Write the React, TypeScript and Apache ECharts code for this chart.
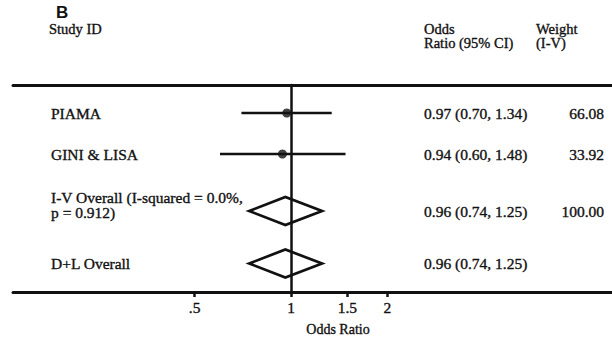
import React, { useEffect, useRef } from "react";
import * as echarts from "echarts";

// ---- data ----
const studyLabels = [
  "PIAMA",
  "GINI & LISA",
  "I-V Overall (I-squared = 0.0%,\np = 0.912)",
  "D+L Overall",
];
const oddsRatios = [0.97, 0.94, 0.96, 0.96];
const ciLower = [0.7, 0.6, 0.74, 0.74];
const ciUpper = [1.34, 1.48, 1.25, 1.25];
const weightLabels = ["66.08", "33.92", "100.00", ""];
const rowKinds = ["study", "study", "pooled", "pooled"];
const tickValues = [0.5, 1, 1.5, 2];
const tickLabels = [".5", "1", "1.5", "2"];

// ---- layout ----
const ROW_POS = [1.4, 3.45, 6.3, 8.925];
const Y_MAX = 10.35;
const X_MIN = -2.0;
const X_MAX = 2.309;
const DIAMOND_HALF = 0.7;
const SERIF = "'Liberation Serif', 'Times New Roman', serif";
const INK = "#111111";
const TEXT = "#111111";
const TXT_STROKE = 0.35;

export default function App() {
  const ref = useRef<HTMLDivElement>(null);

  useEffect(() => {
    if (!ref.current) return;
    const chart = echarts.init(ref.current, null, { renderer: "svg" });

    const ln = Math.log;
    const studyPoints = oddsRatios
      .map((v, i) => (rowKinds[i] === "study" ? [ln(v), ROW_POS[i]] : null))
      .filter((d) => d !== null);
    const forestData = oddsRatios.map((v, i) => [
      ln(ciLower[i]),
      ln(ciUpper[i]),
      ln(v),
      ROW_POS[i],
      rowKinds[i] === "pooled" ? 1 : 0,
    ]);
    const textData = studyLabels.map((_, i) => [0, ROW_POS[i], i]);

    const txt = (extra: any) => ({
      fontFamily: SERIF,
      fontSize: 15.5,
      fill: TEXT,
      stroke: TEXT,
      lineWidth: TXT_STROKE,
      verticalAlign: "middle",
      ...extra,
    });

    const option: any = {
      animation: false,
      backgroundColor: "#ffffff",
      grid: { left: 13, right: 0, top: 85, bottom: 46, containLabel: false },
      xAxis: [
        {
          type: "value",
          position: "bottom",
          min: X_MIN,
          max: X_MAX,
          axisLine: { show: true, onZero: false, lineStyle: { color: INK, width: 3 } },
          axisTick: {
            show: true,
            inside: false,
            length: 5,
            customValues: tickValues.map((t) => ln(t)),
            lineStyle: { color: INK, width: 2.5 },
          },
          axisLabel: {
            show: true,
            margin: 7,
            customValues: tickValues.map((t) => ln(t)),
            formatter: (v: number) => {
              let best = 0;
              tickValues.forEach((t, i) => {
                if (Math.abs(ln(t) - v) < Math.abs(ln(tickValues[best]) - v)) best = i;
              });
              return tickLabels[best];
            },
            fontFamily: SERIF,
            fontSize: 15.5,
            color: TEXT,
            textBorderColor: TEXT,
            textBorderWidth: TXT_STROKE,
          },
          splitLine: { show: false },
        },
        {
          type: "value",
          position: "top",
          min: X_MIN,
          max: X_MAX,
          axisLine: { show: true, onZero: false, lineStyle: { color: INK, width: 3 } },
          axisTick: { show: false },
          axisLabel: { show: false },
          splitLine: { show: false },
        },
      ],
      yAxis: {
        type: "value",
        inverse: true,
        min: 0,
        max: Y_MAX,
        axisLine: { show: true, onZero: true, lineStyle: { color: INK, width: 2.5 } },
        axisTick: { show: false },
        axisLabel: { show: false },
        splitLine: { show: false },
      },
      graphic: [
        {
          type: "text",
          x: 56,
          y: 12.5,
          style: {
            text: "B",
            font: "bold 17px 'Liberation Sans', Arial, sans-serif",
            fill: "#111",
            verticalAlign: "middle",
          },
        },
        {
          type: "text",
          x: 49,
          y: 29,
          style: txt({ text: "Study ID", fontSize: 14.5 }),
        },
        {
          type: "text",
          x: 424,
          y: 36,
          style: txt({ text: "Odds\nRatio (95% CI)", fontSize: 14.5, lineHeight: 14.5 }),
        },
        {
          type: "text",
          x: 536,
          y: 36,
          style: txt({ text: "Weight\n(I-V)", fontSize: 14.5, lineHeight: 14.5 }),
        },
        {
          type: "text",
          x: 338,
          y: 329,
          style: txt({ text: "Odds Ratio", fontSize: 14, align: "center" }),
        },
      ],
      series: [
        {
          type: "custom",
          name: "forest",
          data: forestData,
          renderItem: (params: any, api: any) => {
            const lo = api.value(0);
            const hi = api.value(1);
            const est = api.value(2);
            const row = api.value(3);
            const pooled = api.value(4) === 1;
            if (!pooled) {
              const a = api.coord([lo, row]);
              const b = api.coord([hi, row]);
              return {
                type: "line",
                shape: { x1: a[0], y1: a[1], x2: b[0], y2: b[1] },
                style: { stroke: INK, lineWidth: 2.5 },
              };
            }
            const p1 = api.coord([lo, row]);
            const p2 = api.coord([est, row - DIAMOND_HALF]);
            const p3 = api.coord([hi, row]);
            const p4 = api.coord([est, row + DIAMOND_HALF]);
            return {
              type: "polygon",
              shape: { points: [p1, p2, p3, p4] },
              style: { stroke: INK, lineWidth: 2.7, fill: "none", lineJoin: "miter" },
            };
          },
          z: 3,
        },
        {
          type: "scatter",
          name: "estimates",
          data: studyPoints,
          symbol: "circle",
          symbolSize: 9,
          itemStyle: { color: INK },
          z: 4,
        },
        {
          type: "custom",
          name: "labels",
          data: textData,
          renderItem: (params: any, api: any) => {
            const row = api.value(1);
            const i = api.value(2);
            const y = api.coord([0, row])[1];
            const label = studyLabels[i];
            const multi = label.indexOf("\n") >= 0;
            const orText = `${oddsRatios[i].toFixed(2)} (${ciLower[i].toFixed(2)}, ${ciUpper[i].toFixed(2)})`;
            const children: any[] = [
              {
                type: "text",
                x: 51,
                y: multi ? y - 6 : y,
                style: txt({ text: label, lineHeight: 15.5 }),
              },
              {
                type: "text",
                x: 424,
                y: y,
                style: txt({ text: orText }),
              },
            ];
            if (weightLabels[i]) {
              children.push({
                type: "text",
                x: 604,
                y: y,
                style: txt({ text: weightLabels[i], align: "right" }),
              });
            }
            return { type: "group", children };
          },
          z: 5,
        },
      ],
    };

    chart.setOption(option);
    return () => chart.dispose();
  }, []);

  return (
    <div
      ref={ref}
      style={{ position: "fixed", left: 0, top: 0, width: 612, height: 338, background: "#fff" }}
    />
  );
}
